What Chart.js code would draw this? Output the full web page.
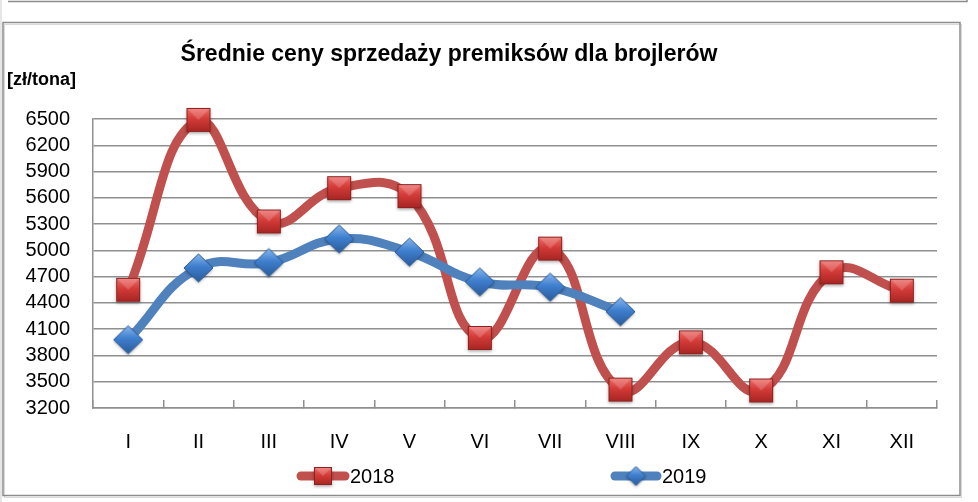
<!DOCTYPE html>
<html>
<head>
<meta charset="utf-8">
<script src="https://cdn.jsdelivr.net/npm/chart.js@4/dist/chart.umd.min.js"></script>
<style>
  html, body { margin: 0; padding: 0; background: #ffffff; }
  #wrap { width: 978px; height: 502px; }
</style>
</head>
<body>
<div id="wrap"><canvas id="c" width="978" height="502"></canvas></div>
<script>
// ---- data ----
const categories = ['I', 'II', 'III', 'IV', 'V', 'VI', 'VII', 'VIII', 'IX', 'X', 'XI', 'XII'];
const seriesNames = ['2018', '2019'];
const values2018 = [4550, 6490, 5330, 5710, 5620, 4000, 5020, 3410, 3950, 3400, 4750, 4540];
const values2019 = [3980, 4800, 4860, 5130, 4980, 4640, 4580, 4300, null, null, null, null];
const yMin = 3200;
const yMax = 6500;
const yStep = 300;
const titleText = 'Średnie ceny sprzedaży premiksów dla brojlerów';
const unitText = '[zł/tona]';

// ---- styles ----
const FONT = '"Liberation Sans", Arial, sans-serif';
const RED = '#C0504D';
const BLUE = '#4F81BD';
const GRID = '#8f8f8f';

function makeSquare(size) {
  const pad = 4;
  const c = document.createElement('canvas');
  c.width = c.height = size + pad * 2;
  const x = c.getContext('2d');
  x.save();
  x.shadowColor = 'rgba(0,0,0,0.35)';
  x.shadowBlur = 3;
  x.shadowOffsetY = 1.5;
  const g = x.createLinearGradient(0, pad, 0, pad + size);
  g.addColorStop(0, '#EE6F6B');
  g.addColorStop(0.45, '#D43B38');
  g.addColorStop(1, '#A52522');
  x.fillStyle = g;
  x.fillRect(pad, pad, size, size);
  x.restore();
  x.fillStyle = 'rgba(255,255,255,0.18)';
  x.beginPath();
  x.moveTo(pad, pad); x.lineTo(pad + size, pad); x.lineTo(pad + size / 2, pad + size / 2); x.closePath();
  x.fill();
  x.strokeStyle = '#8E201E';
  x.lineWidth = 1;
  x.strokeRect(pad + 0.5, pad + 0.5, size - 1, size - 1);
  return c;
}
function makeDiamond(w, h) {
  const pad = 4;
  const c = document.createElement('canvas');
  c.width = w + pad * 2; c.height = h + pad * 2;
  const x = c.getContext('2d');
  const cx = c.width / 2, cy = c.height / 2;
  const path = () => {
    x.beginPath();
    x.moveTo(cx, pad); x.lineTo(pad + w, cy); x.lineTo(cx, pad + h); x.lineTo(pad, cy); x.closePath();
  };
  x.save();
  x.shadowColor = 'rgba(0,0,0,0.35)';
  x.shadowBlur = 3;
  x.shadowOffsetY = 1.5;
  const g = x.createLinearGradient(0, pad, 0, pad + h);
  g.addColorStop(0, '#86B7EE');
  g.addColorStop(0.45, '#3F7FCE');
  g.addColorStop(1, '#2A5B9C');
  x.fillStyle = g;
  path(); x.fill();
  x.restore();
  x.strokeStyle = '#2C5A96';
  x.lineWidth = 1;
  path(); x.stroke();
  return c;
}
const sqBig = makeSquare(24);
const dmBig = makeDiamond(29, 28);
const sqSmall = makeSquare(18);
const dmSmall = makeDiamond(19, 19);

const decorPlugin = {
  id: 'decor',
  beforeDraw(chart) {
    const ctx = chart.ctx;
    ctx.save();
    ctx.fillStyle = '#ffffff';
    ctx.fillRect(0, 0, chart.width, chart.height);
    ctx.fillStyle = '#e6e6e6';
    ctx.fillRect(0, 0, 2, chart.height);
    ctx.strokeStyle = '#8c8c8c';
    ctx.lineWidth = 1.5;
    ctx.beginPath();
    ctx.moveTo(8, 1.5); ctx.lineTo(967, 1.5); ctx.lineTo(967, 0);
    ctx.stroke();
    ctx.strokeStyle = '#d9d9d9';
    ctx.lineWidth = 1;
    ctx.strokeRect(4.5, 24.5, 957, 473);
    ctx.strokeStyle = '#8c8c8c';
    ctx.lineWidth = 1.5;
    ctx.strokeRect(3, 22.5, 957, 473);
    ctx.restore();
  },
  afterDraw(chart) {
    const ctx = chart.ctx;
    ctx.save();
    ctx.fillStyle = '#000000';
    ctx.textBaseline = 'middle';
    ctx.textAlign = 'center';
    ctx.font = 'bold 23px ' + FONT;
    ctx.fillText(titleText, 449, 55);
    ctx.textAlign = 'left';
    ctx.font = 'bold 18px ' + FONT;
    ctx.fillText(unitText, 7, 80);
    const items = [
      { x0: 297, x1: 349, color: RED, img: sqSmall, text: seriesNames[0] },
      { x0: 611, x1: 661, color: BLUE, img: dmSmall, text: seriesNames[1] }
    ];
    const ly = 476;
    items.forEach(it => {
      ctx.strokeStyle = it.color;
      ctx.lineWidth = 9;
      ctx.lineCap = 'round';
      ctx.beginPath();
      ctx.moveTo(it.x0 + 4, ly); ctx.lineTo(it.x1 - 4, ly);
      ctx.stroke();
      const cx = (it.x0 + it.x1) / 2;
      ctx.drawImage(it.img, cx - it.img.width / 2, ly - it.img.height / 2);
      ctx.fillStyle = '#000000';
      ctx.font = '20px ' + FONT;
      ctx.textAlign = 'left';
      ctx.fillText(it.text, it.x1 + 1, ly + 1);
    });
    ctx.restore();
  }
};

new Chart(document.getElementById('c'), {
  type: 'line',
  data: {
    labels: categories,
    datasets: [
      {
        label: seriesNames[0],
        data: values2018,
        borderColor: RED,
        backgroundColor: RED,
        borderWidth: 9,
        tension: 0.45,
        pointStyle: sqBig,
        pointRadius: 12,
        borderCapStyle: 'round',
        clip: false,
        order: 1
      },
      {
        label: seriesNames[1],
        data: values2019,
        borderColor: BLUE,
        backgroundColor: BLUE,
        borderWidth: 9,
        tension: 0.45,
        pointStyle: dmBig,
        pointRadius: 14,
        borderCapStyle: 'round',
        clip: false,
        order: 0
      }
    ]
  },
  options: {
    responsive: false,
    animation: false,
    events: [],
    layout: { padding: { left: 0, top: 119, right: 41, bottom: 0 } },
    plugins: {
      legend: { display: false },
      title: { display: false },
      tooltip: { enabled: false }
    },
    scales: {
      x: {
        type: 'category',
        offset: true,
        grid: {
          offset: true,
          drawOnChartArea: false,
          drawTicks: true,
          tickLength: -8,
          color: GRID,
          lineWidth: 1.5
        },
        border: { display: true, color: GRID, width: 1.5 },
        ticks: {
          color: '#000000',
          font: { family: FONT, size: 20 },
          padding: 30,
          maxRotation: 0,
          autoSkip: false
        },
        afterFit(s) { s.height = 94; }
      },
      y: {
        min: yMin,
        max: yMax,
        grid: {
          drawTicks: false,
          color: GRID,
          lineWidth: 1.5
        },
        border: { display: true, color: GRID, width: 1.5 },
        ticks: {
          stepSize: yStep,
          autoSkip: false,
          color: '#000000',
          font: { family: FONT, size: 20 },
          padding: 23,
          callback: v => String(v)
        },
        afterFit(s) { s.width = 93; }
      }
    }
  },
  plugins: [decorPlugin]
});
</script>
</body>
</html>
